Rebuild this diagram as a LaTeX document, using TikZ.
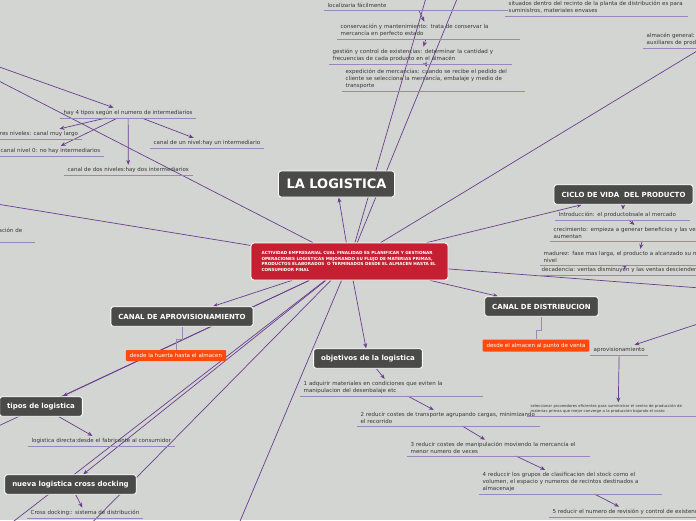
\documentclass[tikz,border=0pt]{standalone}
\usepackage{fontspec}
\setmainfont{DejaVu Sans}
\usetikzlibrary{arrows.meta}
\definecolor{paper}{HTML}{D3D5D2}
\definecolor{wire}{HTML}{6A3E8E}
\definecolor{lilac}{HTML}{9C85B8}
\definecolor{slate}{HTML}{4A4A48}
\definecolor{crimson}{HTML}{C52031}
\definecolor{flame}{HTML}{FF4A0C}
\definecolor{ink}{HTML}{363636}

\pgfdeclarelayer{back}
\pgfdeclarelayer{wires}
\pgfsetlayers{back,wires,main}

\tikzset{
  hub/.style={fill=crimson,draw=white,line width=0.9pt,rounded corners=3pt,text=white,
    font=\bfseries\fontsize{4.2}{5.8}\selectfont,align=left,text width=176pt,
    inner xsep=10.5pt,minimum height=37pt},
  topic/.style={fill=slate,draw=white,line width=0.9pt,rounded corners=2.5pt,text=white,
    font=\bfseries\fontsize{7}{8}\selectfont,inner xsep=7.5pt,minimum height=19.5pt},
  tag/.style={fill=flame,rounded corners=1pt,text=white,font=\fontsize{5.5}{6}\selectfont,
    inner xsep=4pt,minimum height=11pt},
  leaf/.style={anchor=south west,align=left,text=ink,font=\fontsize{5.5}{7}\selectfont,
    inner xsep=3.5pt,inner ysep=2.2pt,
    append after command={(\tikzlastnode.south west) edge[uline] (\tikzlastnode.south east)}},
  uline/.style={draw=lilac,line width=0.9pt},
  link/.style={draw=wire,line width=0.7pt,-{Stealth[length=5pt,width=4pt]}},
  stem/.style={draw=lilac,line width=0.8pt},
}

\begin{document}
\begin{tikzpicture}[x=1pt,y=-1pt]
\useasboundingbox (0,0) rectangle (696,520);
\begin{pgfonlayer}{back}
  \fill[paper] (0,0) rectangle (696,520);
\end{pgfonlayer}

% centre and main topics
\node[hub] (hub) at (349.5,261.5) {ACTIVIDAD EMPRESARIAL CUAL FINALIDAD ES PLANIFICAR Y GESTIONAR\\
  OPERACIONES LOGISTICAS MEJORANDO SU FLUJO DE MATERIAS PRIMAS,\\
  PRODUCTOS ELABORADOS \ O TERMINADOS DESDE EL ALMACEN HASTA EL\\
  CONSUMIDOR FINAL};
\node[topic,font=\bfseries\fontsize{13}{14}\selectfont,minimum height=26pt,inner xsep=8pt] (logistica) at (336.5,184) {LA LOGISTICA};
\node[topic] (ciclo) at (623.5,194.5) {CICLO DE VIDA \ DEL PRODUCTO};
\node[topic] (canalap) at (182,316.5) {CANAL DE APROVISIONAMIENTO};
\node[topic] (canaldist) at (541.5,306.5) {CANAL DE DISTRIBUCION};
\node[topic] (objetivos) at (368,358.5) {objetivos de la logistica};
\node[topic] (tipos) at (41,406.5) {tipos de logistica};
\node[topic] (cross) at (70.5,484.5) {nueva logistica cross docking};
\node[tag] (huerta) at (176,355.5) {desde la huerta hasta el almacen};
\node[tag] (puntoventa) at (536,345.5) {desde el almacen al punto de venta};

% top branch
\node[leaf,text width=177pt] (loc) at (324,10) {localizaria fácilmente};
\node[leaf,text width=176pt] (cons) at (337,39) {conservación y mantenimiento: trata de conservar la\\ mercancía en perfecto estado};
\node[leaf,text width=176pt] (gest) at (329,64) {gestión y control de existencias: determinar la cantidad y\\ frecuencias de cada producto en el almacén};
\node[leaf,text width=176pt] (exped) at (342,91) {expedición de mercancías: cuando se recibe el pedido del\\ cliente se selecciona la mercancía, embalaje y medio de\\ transporte};
\node[leaf,text width=176pt] (situ) at (505,16) {situados dentro del recinto de la planta de distribución es para\\ suministros, materiales envases};
\node[leaf,text width=130pt] (almacengen) at (643,48) {almacén general:\\ auxiliares de producción};

% channels
\node[leaf] (hay4) at (60,118) {hay 4 tipos según el numero de intermediarios};
\node[leaf] (tres) at (-6,139) {tres niveles: canal muy largo};
\node[leaf] (nivel0) at (-3,156) {canal nivel 0: no hay intermediarios};
\node[leaf] (dos) at (64,175) {canal de dos niveles:hay dos intermediarios};
\node[leaf] (uno) at (150,148) {canal de un nivel:hay un intermediario};
\node[leaf,text width=33pt] (acion) at (-5,242) {ación de\\ \mbox{}};

% product life cycle
\node[leaf,text width=128pt] (intro) at (555,220) {Introducción: el productobsale al mercado};
\node[leaf,text width=180pt] (crec) at (550,241) {crecimiento: empieza a generar beneficios y las ventas\\ aumentan};
\node[leaf,text width=190pt] (madur) at (540,265) {madurez: fase mas larga, el producto a alcanzado su maximo\\ nivel};
\node[leaf] (decad) at (538,275) {decadencia: ventas disminuyen y las ventas descienden};

% supply
\node[leaf] (aprovis) at (590,355) {aprovisionamiento};
\node[leaf,text width=175pt,font=\fontsize{3.8}{5}\selectfont] (selec) at (527,416) {seleccionar proveedores eficientes para suministrar el centro de producción de\\ materias primas que mejor converge a la producción bajando el costo};

% objectives
\node[leaf,text width=176pt] (obj1) at (300,396) {1 adquirir materiales en condiciones que eviten la\\ manipulacion del desenbalaje etc};
\node[leaf,text width=176pt] (obj2) at (357,426) {2 reducir costes de transporte agrupando cargas, minimizando\\ el recorrido};
\node[leaf,text width=176pt] (obj3) at (407,456) {3 reducir costes de manipulación moviendo la mercancía el\\ menor numero de veces};
\node[leaf,text width=176pt] (obj4) at (479,494) {4 reduccir los grupos de clasificacion del stock como el\\ volumen, el espacio y numeros de recintos destinados a\\ almacenaje};
\node[leaf] (obj5) at (549,517) {5 reducir el numero de revisión y control de existencias};

% kinds of logistics
\node[leaf] (directa) at (28,446) {logistica directa:desde el fabricante al consumidor};
\node[leaf] (crossdef) at (27,518) {Cross docking:: sistema de distribución};

% ends outside the frame
\coordinate (upA) at (437,-40);
\coordinate (upB) at (473,-40);
\coordinate (rightUp) at (730,31);
\coordinate (rightFar) at (740,291);
\coordinate (leftHigh) at (-40,61);
\coordinate (leftMid) at (-40,198);
\coordinate (leftLow) at (-40,444);
\coordinate (downA) at (-17,545);
\coordinate (downB) at (70,545);
\coordinate (downC) at (230,545);
\coordinate (fromLeft) at (-40,53);
\coordinate (fromRight) at (740,310);

\begin{pgfonlayer}{wires}
  \foreach \t in {logistica,ciclo,canalap,canaldist,objetivos,tipos,cross,upA,upB,rightUp,rightFar,leftHigh,leftMid,leftLow,downA,downB,downC}
    \draw[link] (hub) -- (\t);
  \draw[link] (fromLeft) -- (hay4);
  \foreach \t in {tres,nivel0,dos,uno}
    \draw[link] (hay4) -- (\t);
  \foreach \a/\b in {loc/cons,cons/gest,gest/exped,ciclo/intro,intro/crec,crec/madur,madur/decad,fromRight/aprovis,aprovis/selec,objetivos/obj1,obj1/obj2,obj2/obj3,obj3/obj4,obj4/obj5,tipos/directa,cross/crossdef}
    \draw[link] (\a) -- (\b);
  \draw[stem] (canalap.south) -- ++(0,13) -| (huerta.north);
  \draw[stem] (canaldist.south) -- ++(0,14) -| (puntoventa.north);
\end{pgfonlayer}
\end{tikzpicture}
\end{document}
